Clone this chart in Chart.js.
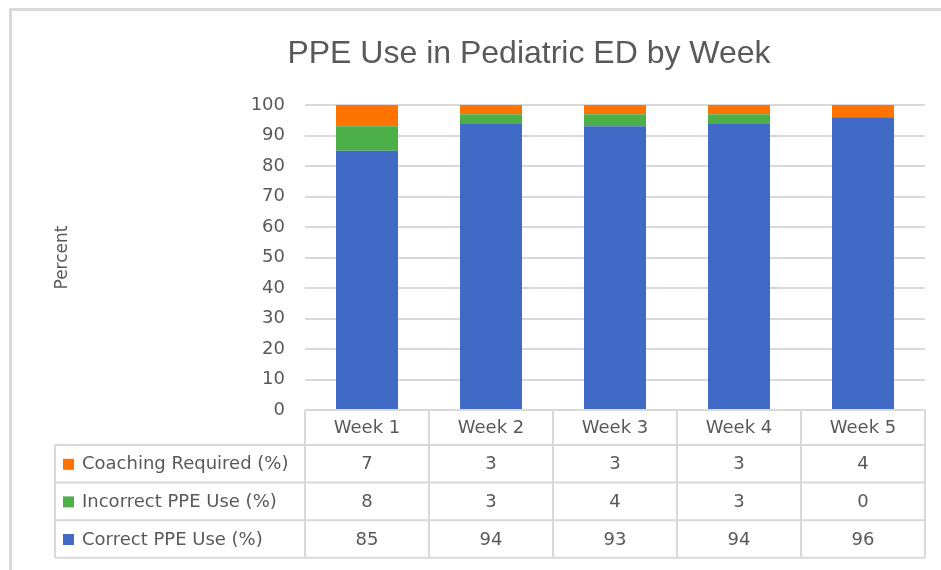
<!DOCTYPE html>
<html>
<head>
<meta charset="utf-8">
<script src="https://cdn.jsdelivr.net/npm/chart.js"></script>
<style>
  html, body { margin: 0; padding: 0; background: #fff; }
  #wrap { position: relative; width: 941px; height: 570px; }
  #frame { position: absolute; left: 9px; top: 8px; right: 0; bottom: 0;
           border-top: 3px solid #dadada; border-left: 3px solid #dadada; pointer-events: none; }
</style>
</head>
<body>
<div id="wrap">
  <canvas id="ppeChart" width="941" height="570"></canvas>
  <div id="frame"></div>
</div>
<script>
const chartTitle = "PPE Use in Pediatric ED by Week";
const weeks = ["Week 1", "Week 2", "Week 3", "Week 4", "Week 5"];
const correctUse = [85, 94, 93, 94, 96];
const incorrectUse = [8, 3, 4, 3, 0];
const coachingRequired = [7, 3, 3, 3, 4];

const textColor = "#595959";
const lineColor = "#d9d9d9";
const fontFamily = "'DejaVu Sans', sans-serif";

Chart.defaults.font.family = fontFamily;
Chart.defaults.color = textColor;

// draws the title and the data table under the plot
const dataTable = {
  id: "dataTable",
  afterDraw(chart) {
    const ctx = chart.ctx;
    const area = chart.chartArea;
    const xs = chart.scales.x;
    const colW = (area.right - area.left) / weeks.length;
    const tableLeft = 55;
    const headTop = area.bottom;
    const headH = 35;
    const rowH = 37.6;

    ctx.save();
    ctx.fillStyle = textColor;
    ctx.textAlign = "center";
    ctx.textBaseline = "middle";
    ctx.font = "32px 'Liberation Sans', sans-serif";
    ctx.fillText(chartTitle, 529, 54);

    // rows: top row first, as in the table
    const rows = chart.data.datasets.slice().reverse();
    const bottom = headTop + headH + rowH * rows.length;

    ctx.strokeStyle = lineColor;
    ctx.lineWidth = 2;
    ctx.beginPath();
    ctx.moveTo(area.left, headTop);
    ctx.lineTo(area.right, headTop);
    for (let r = 0; r <= rows.length; r++) {
      const y = headTop + headH + rowH * r;
      ctx.moveTo(tableLeft, y);
      ctx.lineTo(area.right, y);
    }
    for (let c = 0; c <= weeks.length; c++) {
      const x = area.left + colW * c;
      ctx.moveTo(x, headTop);
      ctx.lineTo(x, bottom);
    }
    ctx.moveTo(tableLeft, headTop + headH);
    ctx.lineTo(tableLeft, bottom);
    ctx.stroke();

    ctx.font = "18px " + fontFamily;
    ctx.fillStyle = textColor;
    weeks.forEach((w, i) => {
      ctx.fillText(w, xs.getPixelForValue(i), headTop + headH / 2 + 1);
    });

    rows.forEach((ds, r) => {
      const cy = headTop + headH + rowH * r + rowH / 2 + 1;
      ctx.fillStyle = ds.backgroundColor;
      ctx.fillRect(tableLeft + 8, cy - 6, 11, 11);
      ctx.fillStyle = textColor;
      ctx.textAlign = "left";
      ctx.fillText(ds.label, tableLeft + 27, cy);
      ctx.textAlign = "center";
      ds.data.forEach((v, i) => {
        ctx.fillText(String(v), xs.getPixelForValue(i), cy);
      });
    });
    ctx.restore();
  }
};

new Chart(document.getElementById("ppeChart"), {
  type: "bar",
  data: {
    labels: weeks,
    datasets: [
      { label: "Correct PPE Use (%)", data: correctUse, backgroundColor: "#4169c6" },
      { label: "Incorrect PPE Use (%)", data: incorrectUse, backgroundColor: "#4caf48" },
      { label: "Coaching Required (%)", data: coachingRequired, backgroundColor: "#ff7300" },
    ],
  },
  options: {
    responsive: false,
    animation: false,
    layout: { padding: { left: 48, right: 16, top: 105, bottom: 160 } },
    datasets: { bar: { categoryPercentage: 1, barPercentage: 0.5 } },
    plugins: { legend: { display: false }, title: { display: false }, tooltip: { enabled: false } },
    scales: {
      x: { stacked: true, display: false },
      y: {
        stacked: true,
        min: 0,
        max: 100,
        ticks: { stepSize: 10, padding: 20, font: { size: 18 }, color: textColor },
        grid: { color: lineColor, lineWidth: 2, drawTicks: false },
        border: { display: false },
        title: { display: true, text: "Percent", font: { size: 17 }, color: textColor },
        afterFit(scale) { scale.width = 257; },
      },
    },
  },
  plugins: [dataTable],
});
</script>
</body>
</html>
